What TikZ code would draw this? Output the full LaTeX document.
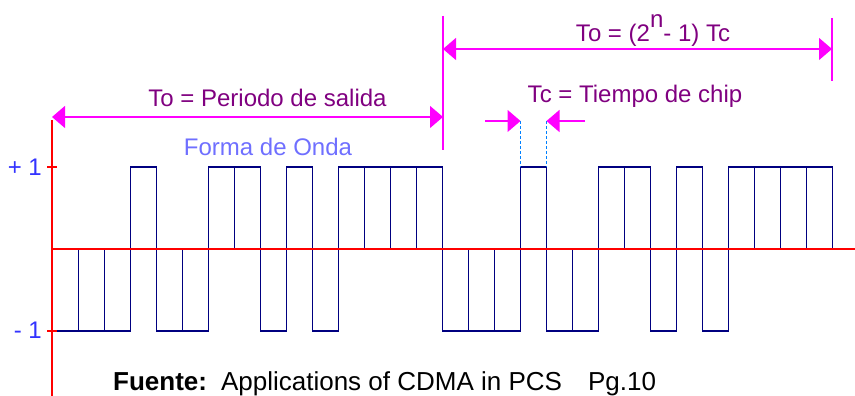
\documentclass[tikz,border=0pt]{standalone}
\usepackage{fontspec}
\setmainfont{Liberation Sans}
\usepackage{tikz}
\usetikzlibrary{arrows.meta, positioning}
\definecolor{waveN}{HTML}{000080}
\definecolor{axisR}{HTML}{FF0000}
\definecolor{dimM}{HTML}{FF00FF}
\definecolor{textP}{HTML}{800080}
\definecolor{levelB}{HTML}{3333FF}
\definecolor{ondaB}{HTML}{6F6FFF}
\definecolor{chipB}{HTML}{0080FF}

\tikzset{
  bigtri/.tip = {Triangle[length = 13pt, width = 22pt]},
  wave/.style = {draw = waveN, line width = 1.3pt},
  axis/.style = {draw = axisR, line width = 1.3pt},
  dimbar/.style = {draw = dimM, line width = 1.3pt},
  dimline/.style = {draw = dimM, line width = 1.3pt, bigtri-bigtri},
  dimhalf/.style = {draw = dimM, line width = 1.3pt, -bigtri},
  chipdash/.style = {draw = chipB, line width = 1.1pt, dash pattern = on 3pt off 2pt},
  txt/.style = {inner sep = 0pt, font = \fontsize{24}{28}\selectfont}
}

\begin{document}
\begin{tikzpicture}[x = 1pt, y = 1pt]
  \def\xZero{52.5}
  \def\chipW{26}
  \def\yZero{147}
  \def\amp{82}

  \useasboundingbox (0, 0) rectangle (855, 396);

  % ------------------------
  % chip sequence, two periods
  % ------------------------

  \begin{scope}[shift = {(0, \yZero)}, y = \amp pt]
    \foreach \val [count = \k from 0] in {-1, -1, -1, 1, -1, -1, 1, 1, -1, 1, -1, 1, 1, 1, 1,
                                          -1, -1, -1, 1, -1, -1, 1, 1, -1, 1, -1, 1, 1, 1, 1} {
      \draw[wave] ({\xZero + \k*\chipW}, 0) rectangle ({\xZero + (\k+1)*\chipW}, \val);
    }
  \end{scope}

  % ------------------------
  % axes and levels
  % ------------------------

  \coordinate (O) at (52, \yZero);
  \coordinate (E) at (855, \yZero);
  \coordinate (A0) at (52, 0);
  \coordinate (A1) at (52, 276);
  \coordinate (P0) at (47, \yZero + \amp);
  \coordinate (P1) at (57, \yZero + \amp);
  \coordinate (N0) at (47, \yZero - \amp);
  \coordinate (N1) at (57, \yZero - \amp);

  \draw[axis] (O) -- (E);
  \draw[axis] (A0) -- (A1);
  \draw[axis] (P0) -- (P1);
  \draw[axis] (N0) -- (N1);

  \node[txt, text = levelB, anchor = base east] (plusOne) at (42, 220) {+ 1};
  \node[txt, text = levelB, anchor = base east] (minusOne) at (42, 57) {- 1};
  \node[txt, text = ondaB, anchor = base] (waveLabel) at (268, 240) {Forma de Onda};

  % ------------------------
  % period and chip markers
  % ------------------------

  \coordinate (M0t) at (443, 380);
  \coordinate (M0b) at (443, 246);
  \coordinate (M1t) at (832, 378);
  \coordinate (M1b) at (832, 315);
  \coordinate (L0) at (52, 279);
  \coordinate (L1) at (443, 279);
  \coordinate (D0) at (443, 347);
  \coordinate (D1) at (832, 347);

  \draw[dimbar] (M0t) -- (M0b);
  \draw[dimbar] (M1t) -- (M1b);
  \draw[dimline] (L0) -- (L1);
  \draw[dimline] (D0) -- (D1);

  \coordinate (C0) at (485, 275);
  \coordinate (C1) at ({\xZero + 18*\chipW}, 275);
  \coordinate (C2) at ({\xZero + 19*\chipW}, 275);
  \coordinate (C3) at (585, 275);
  \coordinate (C1b) at ({\xZero + 18*\chipW}, \yZero + \amp);
  \coordinate (C2b) at ({\xZero + 19*\chipW}, \yZero + \amp);

  \draw[chipdash] (C1) -- (C1b);
  \draw[chipdash] (C2) -- (C2b);
  \draw[dimhalf] (C0) -- (C1);
  \draw[dimhalf] (C3) -- (C2);

  \node[txt, text = textP, anchor = base] (periodLabel) at (267.5, 289) {To = Periodo de salida};
  \node[txt, text = textP, anchor = base] (fullLabel) at (653, 354) {To = (2\raisebox{0.6em}{n}- 1) Tc};
  \node[txt, text = textP, anchor = base] (chipLabel) at (635, 293) {Tc = Tiempo de chip};

  \node[txt, anchor = base west, font = \fontsize{26}{30}\selectfont] (sourceLabel) at (113, 5)
    {\textbf{Fuente:}\hspace{14pt}Applications of CDMA in PCS\hspace{26pt}Pg.10};
\end{tikzpicture}
\end{document}
